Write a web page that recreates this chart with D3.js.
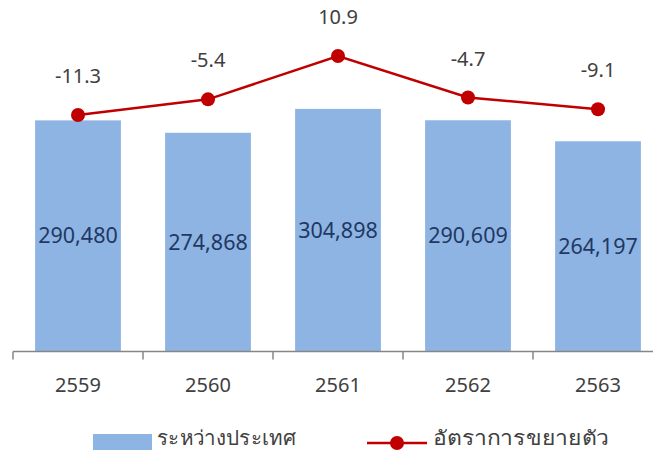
<!DOCTYPE html>
<html>
<head>
<meta charset="utf-8">
<script src="https://cdn.jsdelivr.net/npm/d3@7"></script>
<style>
  body { margin: 0; background: #fff; }
  svg { display: block; font-family: "Noto Sans", "Segoe UI", sans-serif; }
</style>
</head>
<body>
<div id="chart"></div>
<script>
var years = ["2559", "2560", "2561", "2562", "2563"];
var tradeValues = [290480, 274868, 304898, 290609, 264197];
var growthRates = [-11.3, -5.4, 10.9, -4.7, -9.1];
var legendLabels = ["ระหว่างประเทศ", "อัตราการขยายตัว"];

var width = 653, height = 450;
var axisY = 351.5;

var svg = d3.select("#chart").append("svg")
    .attr("width", width)
    .attr("height", height);

var x = d3.scaleBand()
    .domain(years)
    .range([13, 663])
    .paddingInner(0.34)
    .paddingOuter(0.17);

var y = d3.scaleLinear()
    .domain([0, 350000])
    .range([axisY, 73]);

var y2 = d3.scaleLinear()
    .domain([-20, 20])
    .range([138.2, 31.8]);

// bars
svg.selectAll("rect.bar").data(years).enter()
    .append("rect")
    .attr("class", "bar")
    .attr("x", function(d) { return x(d); })
    .attr("y", function(d, i) { return y(tradeValues[i]); })
    .attr("width", x.bandwidth())
    .attr("height", function(d, i) { return axisY - y(tradeValues[i]); })
    .attr("fill", "#8eb4e3");

svg.selectAll("text.barlabel").data(years).enter()
    .append("text")
    .attr("class", "barlabel")
    .attr("x", function(d) { return x(d) + x.bandwidth() / 2; })
    .attr("y", function(d, i) { return (y(tradeValues[i]) + axisY) / 2; })
    .attr("dy", "0.35em")
    .attr("text-anchor", "middle")
    .attr("font-size", "21.5px")
    .attr("fill", "#1f3864")
    .text(function(d, i) { return d3.format(",")(tradeValues[i]); });

// x axis
var axisG = svg.append("g");
axisG.append("line")
    .attr("x1", 13).attr("x2", width)
    .attr("y1", axisY).attr("y2", axisY)
    .attr("stroke", "#868686")
    .attr("stroke-width", 1.5);

var step = x.step();
axisG.selectAll("line.tick").data(d3.range(years.length + 1)).enter()
    .append("line")
    .attr("class", "tick")
    .attr("x1", function(i) { return 13 + i * step; })
    .attr("x2", function(i) { return 13 + i * step; })
    .attr("y1", axisY)
    .attr("y2", axisY + 8)
    .attr("stroke", "#868686")
    .attr("stroke-width", 1.5);

axisG.selectAll("text").data(years).enter()
    .append("text")
    .attr("x", function(d) { return x(d) + x.bandwidth() / 2; })
    .attr("y", 385)
    .attr("dy", "0.35em")
    .attr("text-anchor", "middle")
    .attr("font-size", "20px")
    .attr("fill", "#404040")
    .text(function(d) { return d; });

// growth line
var cx = function(d, i) { return x(years[i]) + x.bandwidth() / 2; };
var line = d3.line()
    .x(function(d, i) { return cx(d, i); })
    .y(function(d) { return y2(d); });

svg.append("path")
    .datum(growthRates)
    .attr("d", line)
    .attr("fill", "none")
    .attr("stroke", "#c00000")
    .attr("stroke-width", 2.5);

svg.selectAll("circle.pt").data(growthRates).enter()
    .append("circle")
    .attr("class", "pt")
    .attr("cx", cx)
    .attr("cy", function(d) { return y2(d); })
    .attr("r", 7)
    .attr("fill", "#c00000");

svg.selectAll("text.ptlabel").data(growthRates).enter()
    .append("text")
    .attr("class", "ptlabel")
    .attr("x", cx)
    .attr("y", function(d) { return y2(d) - 39; })
    .attr("dy", "0.35em")
    .attr("text-anchor", "middle")
    .attr("font-size", "20px")
    .attr("fill", "#404040")
    .text(function(d) { return d3.format(".1f")(d).replace("\u2212", "-"); });

// legend
var legend = svg.append("g");
legend.append("rect")
    .attr("x", 93).attr("y", 434)
    .attr("width", 59).attr("height", 17)
    .attr("fill", "#8eb4e3");
legend.append("text")
    .attr("x", 157).attr("y", 438)
    .attr("dy", "0.35em")
    .attr("font-size", "20px")
    .attr("textLength", 139)
    .attr("lengthAdjust", "spacingAndGlyphs")
    .attr("fill", "#404040")
    .text(legendLabels[0]);

legend.append("line")
    .attr("x1", 367).attr("x2", 427)
    .attr("y1", 443).attr("y2", 443)
    .attr("stroke", "#c00000")
    .attr("stroke-width", 2.5);
legend.append("circle")
    .attr("cx", 397).attr("cy", 443)
    .attr("r", 7)
    .attr("fill", "#c00000");
legend.append("text")
    .attr("x", 433).attr("y", 438)
    .attr("dy", "0.35em")
    .attr("font-size", "20px")
    .attr("textLength", 176)
    .attr("lengthAdjust", "spacingAndGlyphs")
    .attr("fill", "#404040")
    .text(legendLabels[1]);
</script>
</body>
</html>
